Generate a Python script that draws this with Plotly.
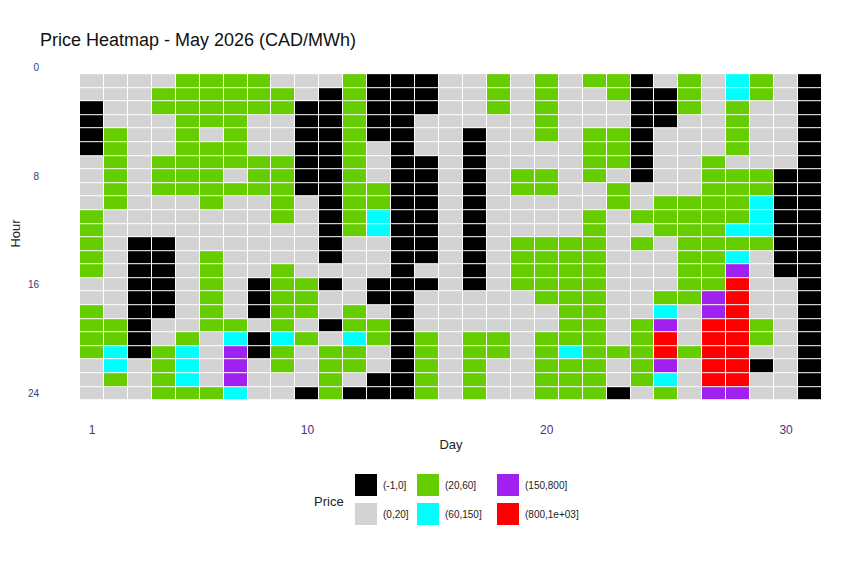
import plotly.graph_objects as go

# price bins and colours
bins = ["(-1,0]", "(0,20]", "(20,60]", "(60,150]", "(150,800]", "(800,1e+03]"]
bin_colors = ["#000000", "#d3d3d3", "#66cd00", "#00ffff", "#a020f0", "#ff0000"]
codes = "KGLCPR"  # one letter per bin, same order as above

days = list(range(1, 32))
hours = list(range(1, 25))

# one string per hour (1..24), one letter per day (1..31)
hour_rows = [
    "GGGGLLLL" + "GGGLKKKG" + "GLGLGLLK" + "GLGCLGK",
    "GGGLLLLL" + "LGKLKKKG" + "GLGLGGLK" + "KLGCLGK",
    "KGGLLLLL" + "LKKLKKKG" + "GLGLGGGK" + "KLGLGGK",
    "KGGGLLLG" + "GKKLKKGG" + "GGGLGGGK" + "KGGLGGK",
    "KLGGLGLG" + "GKKLKKGG" + "KGGLGLLK" + "GGGLGGK",
    "KLGGLLLG" + "GKKLGKGG" + "KGGGGLLK" + "GGGLGGK",
    "GLGLLLLL" + "LKKLGKKG" + "KGGGGLLK" + "GGLGGGK",
    "GLGLLLGL" + "LKKLGKKG" + "KGLLGLGK" + "GGLLLKK",
    "GLGLLLLL" + "LKKLLKKG" + "KGLLGGLG" + "GGLLLKK",
    "GLGGGLGG" + "LGKLLKKG" + "KGGGGGLG" + "LLLLCKK",
    "LGGGGGGG" + "LGKLCKKG" + "KGGGGLGL" + "LLLLCKK",
    "LGGGGGGG" + "GGKLCKKG" + "KGGGGLGG" + "LLLCCKK",
    "LGKKGGGG" + "GGKGGKKG" + "KGLLLLGL" + "GLLLLKK",
    "LGKKGLGG" + "GGKGGKKG" + "KGLLLLGG" + "GLLCGKK",
    "LGKKGLGG" + "LGGGGKGG" + "KGLLLLGG" + "GLLPGKK",
    "GGKKGLGK" + "LLKGKKKG" + "KGLLLLGG" + "GLLRGGK",
    "GGKKGLGK" + "LLGGKKGG" + "GGGLLLGG" + "LLPRGGK",
    "LGKKGLGK" + "LLGLGKGG" + "GGGGLLGG" + "CGPRGGK",
    "LLKGGLLG" + "LGKLLKGG" + "GGGGLLGL" + "PGRRLGK",
    "LLKGLGCK" + "CLGCLKLG" + "LLGLLLGL" + "RGRRLGK",
    "LCKLCGPK" + "LGLLGKLG" + "LLGLCLLL" + "RLRRGGK",
    "GCGLCGPG" + "LGLLGKLG" + "LGGLLLGL" + "PGRRKGK",
    "GLGLCGPG" + "GGLGKKLG" + "LGGLLLGL" + "CGRRGGK",
    "GGGLLLCG" + "GKLKKKLG" + "LGGLLLKG" + "LGPPGGK",
]

z = [[codes.index(c) for c in row] for row in hour_rows]
text = [[bins[v] for v in row] for row in z]

n = len(bins)
colorscale = []
for i, col in enumerate(bin_colors):
    colorscale.append([i / n, col])
    colorscale.append([(i + 1) / n, col])

fig = go.Figure(go.Heatmap(
    x=days, y=hours, z=z, text=text,
    zmin=-0.5, zmax=n - 0.5,
    colorscale=colorscale, showscale=False,
    xgap=1, ygap=1,
    hovertemplate="Day %{x}<br>Hour %{y}<br>%{text}<extra></extra>",
))

# page body adds an 8px offset, so pixel positions are compensated
OFF = 8
L, R, T, B = 80 - OFF, 822 - OFF, 66 - OFF, 401 - OFF
def px(x):
    return (x - OFF - L) / (R - L)
def py(y):
    return (B - (y - OFF)) / (B - T)

legend_items = [
    (0, 355, 474), (1, 355, 503),
    (2, 417, 474), (3, 417, 503),
    (4, 497, 474), (5, 497, 503),
]
for idx, x0, y0 in legend_items:
    fig.add_shape(type="rect", xref="paper", yref="paper",
        x0=px(x0), x1=px(x0 + 22), y0=py(y0 + 22), y1=py(y0),
        fillcolor=bin_colors[idx], line_width=0)
    fig.add_annotation(xref="paper", yref="paper", x=px(x0 + 26), y=py(y0 + 11),
        text=bins[idx], showarrow=False, xanchor="left", yanchor="middle",
        font=dict(size=10, color="#222222"))
fig.add_annotation(xref="paper", yref="paper", x=px(346), y=py(501),
    text="Price", showarrow=False, xanchor="right", yanchor="middle",
    font=dict(size=13, color="#222222"))

fig.update_layout(
    width=863, height=565,
    margin=dict(l=L, r=863 - R, t=T, b=565 - B),
    paper_bgcolor="white", plot_bgcolor="white",
    font=dict(family="Liberation Sans, Arial, sans-serif"),
    title=dict(text="Price Heatmap - May 2026 (CAD/MWh)", x=(40 - OFF) / 863,
               y=1 - (40 - OFF) / 565, xanchor="left", yanchor="middle",
               font=dict(size=18, color="#111111")),
    showlegend=False,
)
fig.update_xaxes(title_text="Day", range=[0.5, 31.5], tickvals=[1, 10, 20, 30],
    showgrid=False, zeroline=False, ticks="", automargin=False, ticklabelstandoff=20,
    tickfont=dict(size=12, color="#4b2f86"),
    title_font=dict(size=13, color="#222222"), title_standoff=3)
fig.update_yaxes(title_text="Hour", range=[24.55, -0.1], tickvals=[0, 8, 16, 24],
    showgrid=False, zeroline=False, ticks="", automargin=False, ticklabelstandoff=40,
    tickfont=dict(size=10, color="#2c3e7a"),
    title_font=dict(size=13, color="#222222"), title_standoff=6)

fig.write_html("out.html")
